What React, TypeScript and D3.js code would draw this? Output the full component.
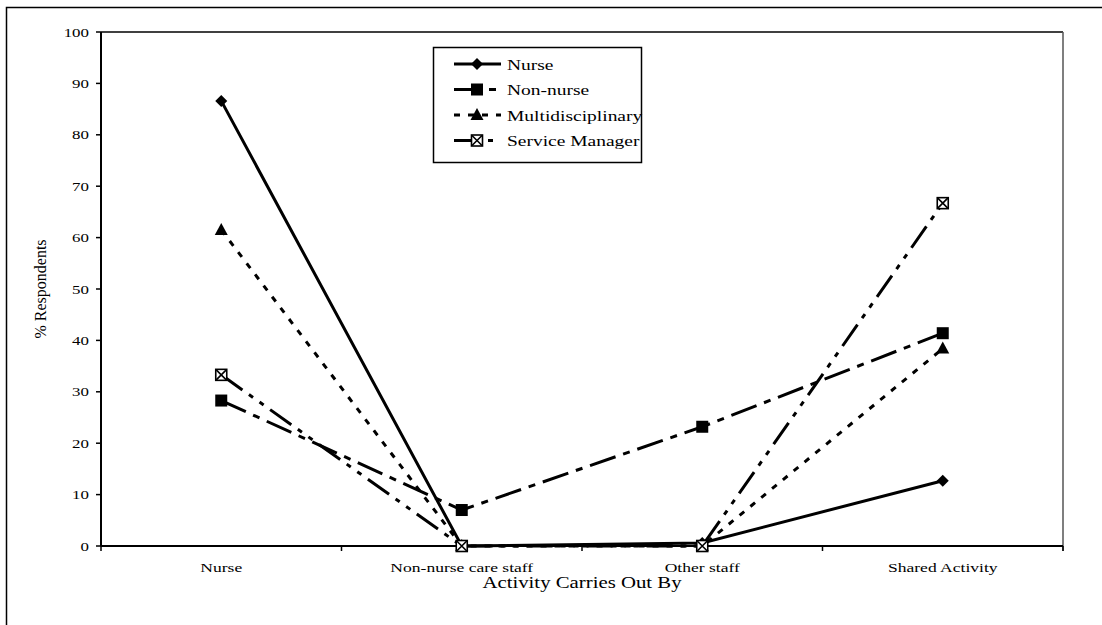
import React from "react";
import * as d3 from "d3";

const categories = ["Nurse", "Non-nurse care staff", "Other staff", "Shared Activity"];
const nurse = [86.6, 0, 0.6, 12.7];
const nonNurse = [28.3, 7.0, 23.2, 41.4];
const multidisciplinary = [61.5, 0, 0, 38.4];
const serviceManager = [33.3, 0, 0, 66.7];
const yTicks = [0, 10, 20, 30, 40, 50, 60, 70, 80, 90, 100];

const seriesNames = ["Nurse", "Non-nurse", "Multidisciplinary", "Service Manager"];
const seriesValues = [nurse, nonNurse, multidisciplinary, serviceManager];
const dashes = ["none", "27 8 7 8", "6 8", "26 8 5 8 5 8"];
const markers = ["diamond", "square", "triangle", "xsquare"];

const W = 1102;
const H = 625;
const left = 101;
const right = 1063;
const top = 32;
const bottom = 546;
const font = "'Liberation Serif', 'Times New Roman', serif";
// horizontal widening applied to the chart's text
const sx = 1.3;

function Marker({ kind, x, y }: { kind: string; x: number; y: number }) {
  if (kind === "diamond") {
    return <path d={`M${x},${y - 6}L${x + 6},${y}L${x},${y + 6}L${x - 6},${y}Z`} fill="#000" />;
  }
  if (kind === "square") {
    return <rect x={x - 6} y={y - 6} width={12} height={12} fill="#000" />;
  }
  if (kind === "triangle") {
    return <path d={`M${x},${y - 7}L${x + 6.5},${y + 5}L${x - 6.5},${y + 5}Z`} fill="#000" />;
  }
  return (
    <g>
      <rect x={x - 5.5} y={y - 5.5} width={11} height={11} fill="#fff" stroke="#000" strokeWidth={1.6} />
      <path d={`M${x - 5},${y - 5}L${x + 5},${y + 5}M${x + 5},${y - 5}L${x - 5},${y + 5}`} stroke="#000" strokeWidth={1.6} />
    </g>
  );
}

function WideText({
  x,
  y,
  size,
  anchor,
  children,
}: {
  x: number;
  y: number;
  size: number;
  anchor: "start" | "middle" | "end";
  children: React.ReactNode;
}) {
  return (
    <text
      transform={`translate(${x},${y}) scale(${sx},1)`}
      textAnchor={anchor}
      fontSize={size}
      fontFamily={font}
    >
      {children}
    </text>
  );
}

export default function App() {
  const x = d3.scaleBand<string>().domain(categories).range([left, right]);
  const y = d3.scaleLinear().domain([0, 100]).range([bottom, top]);
  const cx = (c: string) => (x(c) as number) + x.bandwidth() / 2;
  const line = d3
    .line<number>()
    .x((_, i) => cx(categories[i]))
    .y((v) => y(v));

  const bounds = [left, ...categories.map((c) => (x(c) as number) + x.bandwidth())];

  return (
    <svg
      width={W}
      height={H}
      style={{ position: "absolute", left: 0, top: 0, background: "#fff" }}
    >
      {/* outer chart frame */}
      <rect x={6.5} y={7.5} width={W + 20} height={H + 20} fill="none" stroke="#000" strokeWidth={1.5} />

      {/* plot area border */}
      <line x1={left} y1={top} x2={right} y2={top} stroke="#000" strokeWidth={1.5} />
      <line x1={right} y1={top} x2={right} y2={bottom + 5} stroke="#555" strokeWidth={1.5} />

      {/* y axis */}
      <line x1={left} y1={top} x2={left} y2={bottom} stroke="#000" strokeWidth={2} />
      {yTicks.map((t) => (
        <g key={t}>
          <line x1={left - 5} x2={left} y1={y(t)} y2={y(t)} stroke="#000" strokeWidth={1.5} />
          <WideText x={left - 12} y={y(t) + 4.5} size={13} anchor="end">
            {t}
          </WideText>
        </g>
      ))}

      {/* x axis */}
      <line x1={left} y1={bottom} x2={right} y2={bottom} stroke="#000" strokeWidth={2} />
      {bounds.map((b, i) => (
        <line key={i} x1={b} x2={b} y1={bottom} y2={bottom + 5} stroke="#000" strokeWidth={1.5} />
      ))}
      {categories.map((c) => (
        <WideText key={c} x={cx(c)} y={bottom + 26} size={13.5} anchor="middle">
          {c}
        </WideText>
      ))}

      {/* axis titles */}
      <text
        transform={`translate(46,${(top + bottom) / 2}) rotate(-90)`}
        textAnchor="middle"
        fontSize={16}
        fontFamily={font}
      >
        % Respondents
      </text>
      <WideText x={(left + right) / 2} y={588} size={16} anchor="middle">
        Activity Carries Out By
      </WideText>

      {/* series */}
      {seriesValues.map((vals, si) => (
        <path
          key={si}
          d={line(vals) as string}
          fill="none"
          stroke="#000"
          strokeWidth={3}
          strokeDasharray={dashes[si]}
        />
      ))}
      {seriesValues.map((vals, si) =>
        vals.map((v, i) => <Marker key={`${si}-${i}`} kind={markers[si]} x={cx(categories[i])} y={y(v)} />)
      )}

      {/* legend */}
      <rect x={433.5} y={47.5} width={208} height={115} fill="#fff" stroke="#000" strokeWidth={1.5} />
      {seriesNames.map((n, i) => {
        const ly = 64 + i * 25.5;
        return (
          <g key={n}>
            <line
              x1={454}
              x2={501}
              y1={ly}
              y2={ly}
              stroke="#000"
              strokeWidth={3}
              strokeDasharray={dashes[i]}
            />
            <Marker kind={markers[i]} x={477} y={ly} />
            <WideText x={507} y={ly + 5.5} size={15} anchor="start">
              {n}
            </WideText>
          </g>
        );
      })}
    </svg>
  );
}
